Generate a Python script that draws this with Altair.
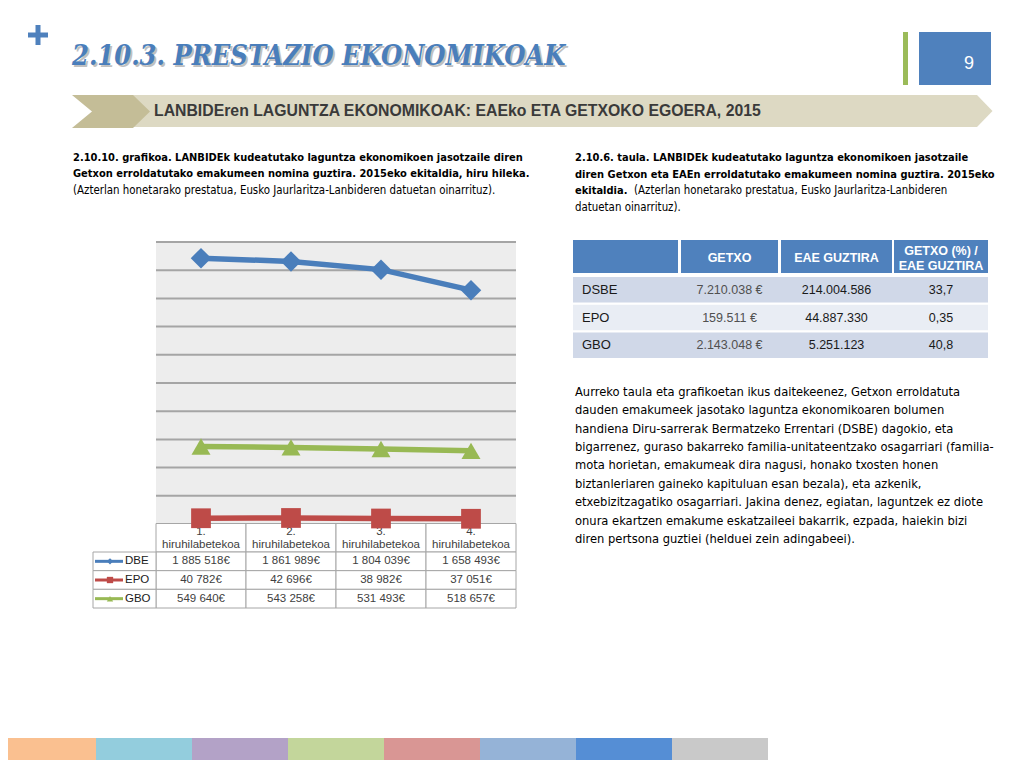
import altair as alt
import pandas as pd

# ---------------- data ----------------
quarters = ["1. hiruhilabetekoa", "2. hiruhilabetekoa", "3. hiruhilabetekoa", "4. hiruhilabetekoa"]
series = ["DBE", "EPO", "GBO"]
dbe_values = [1885518, 1861989, 1804039, 1658493]
epo_values = [40782, 42696, 38982, 37051]
gbo_values = [549640, 543258, 531493, 518657]
series_colors = ["#4A7EBB", "#BE4B48", "#98B954"]
series_shapes = ["diamond", "square", "triangle-up"]
grid_ticks = [200000, 400000, 600000, 800000, 1000000, 1200000, 1400000, 1600000, 1800000, 2000000]

table_rows = ["DSBE", "EPO", "GBO"]
getxo_values = [7210038, 159511, 2143048]
eae_values = [214004586, 44887330, 5251123]
pct_values = [33.7, 0.35, 40.8]
table_headers = ["GETXO", "EAE GUZTIRA", "GETXO (%) /\nEAE GUZTIRA"]
row_fills = ["#D0D8E8", "#E9EDF4", "#D0D8E8"]

strip_colors = ["#FAC090", "#93CDDD", "#B3A2C7", "#C3D69B", "#D99694", "#95B3D7", "#558ED5", "#C9C9C9"]

title_text = "2.10.3. PRESTAZIO EKONOMIKOAK"
page_number = "9"
header_text = "LANBIDEren LAGUNTZA EKONOMIKOAK: EAEko ETA GETXOKO EGOERA, 2015"
left_caption_bold = [
    "2.10.10. grafikoa. LANBIDEk kudeatutako laguntza ekonomikoen jasotzaile diren",
    "Getxon erroldatutako emakumeen nomina guztira. 2015eko ekitaldia, hiru hileka.",
]
left_caption_normal = "(Azterlan honetarako prestatua, Eusko Jaurlaritza-Lanbideren datuetan oinarrituz)."
right_caption_bold = [
    "2.10.6. taula. LANBIDEk kudeatutako laguntza ekonomikoen jasotzaile",
    "diren Getxon eta EAEn erroldatutako emakumeen nomina guztira. 2015eko",
]
right_caption_bold3 = "ekitaldia."
right_caption_rest3 = "(Azterlan honetarako prestatua, Eusko Jaurlaritza-Lanbideren"
right_caption_last = "datuetan oinarrituz)."
paragraph = [
    "Aurreko taula eta grafikoetan ikus daitekeenez, Getxon erroldatuta",
    "dauden emakumeek jasotako laguntza ekonomikoaren bolumen",
    "handiena Diru-sarrerak Bermatzeko Errentari (DSBE) dagokio, eta",
    "bigarrenez, guraso bakarreko familia-unitateentzako osagarriari (familia-",
    "mota horietan, emakumeak dira nagusi, honako txosten honen",
    "biztanleriaren gaineko kapituluan esan bezala), eta azkenik,",
    "etxebizitzagatiko osagarriari. Jakina denez, egiatan, laguntzek ez diote",
    "onura ekartzen emakume eskatzaileei bakarrik, ezpada, haiekin bizi",
    "diren pertsona guztiei (helduei zein adingabeei).",
]

# ---------------- helpers ----------------
SANS = "Liberation Sans, Arial, sans-serif"
NARROW = "Liberation Sans Narrow, Arial Narrow, DejaVu Sans Condensed, Liberation Sans, sans-serif"
one = pd.DataFrame({"k": [0]})


def label(text, x, y, size, color="#000000", weight="normal", style="normal",
          font=SANS, align="left", baseline="alphabetic", **kw):
    return alt.Chart(one).mark_text(
        text=text, align=align, baseline=baseline, fontSize=size, fontWeight=weight,
        fontStyle=style, font=font, color=color, **kw
    ).encode(x=alt.value(x), y=alt.value(y))


def box(x, x2, y, y2, color, **kw):
    return alt.Chart(one).mark_rect(color=color, **kw).encode(
        x=alt.value(x), x2=alt.value(x2), y=alt.value(y), y2=alt.value(y2))


def rule(x, x2, y, y2, color, width):
    return alt.Chart(one).mark_rule(color=color, strokeWidth=width).encode(
        x=alt.value(x), x2=alt.value(x2), y=alt.value(y), y2=alt.value(y2))


def path_shape(path, cx, cy, size, color):
    return alt.Chart(one).mark_point(
        shape=path, size=size, filled=True, color=color, opacity=1, strokeWidth=0
    ).encode(x=alt.value(cx), y=alt.value(cy))


def text_block(lines, x, y0, y1, size, weight="normal", color="#000000", font=NARROW):
    df = pd.DataFrame({"i": list(range(len(lines))), "t": lines})
    n = max(len(lines) - 1, 1)
    return alt.Chart(df).mark_text(
        align="left", baseline="alphabetic", fontSize=size, fontWeight=weight, font=font, color=color
    ).encode(
        x=alt.value(x),
        y=alt.Y("i:Q", scale=alt.Scale(domain=[0, n], range=[y0, y1], zero=False, nice=False), axis=None),
        text="t:N",
    )


layers = []

# ---------------- slide decoration ----------------
layers.append(rule(20, 40, 27, 27, "#4F81BD", 5))
layers.append(rule(30, 30, 17, 37, "#4F81BD", 5))
TITLE_FONT = "DejaVu Serif Condensed, DejaVu Serif, serif"
layers.append(label(title_text, 66, 59, 27, color="#A6A6A6", weight="bold", style="italic",
                    font=TITLE_FONT, opacity=0.7))
layers.append(label(title_text, 64, 57, 27, color="#4A7EBB", weight="bold", style="italic",
                    font=TITLE_FONT))
layers.append(box(895, 900, 24, 77, "#9BBB59"))
layers.append(box(911, 983, 24, 77, "#4F81BD"))
layers.append(label(page_number, 961, 56, 18, color="#FFFFFF", align="center", baseline="middle"))
layers.append(path_shape("M-1,-0.0367L0.9645,-0.0367L1,0L0.9645,0.0367L-1,0.0367Z", 548, 103, 873 ** 2, "#DDD9C3"))
layers.append(path_shape("M-1,-0.423L0.564,-0.423L1,0L0.564,0.423L-1,0.423L-0.487,0Z", 103, 103.5, 78 ** 2, "#C4BD97"))
layers.append(label(header_text, 146, 103, 15.8, color="#3A3A3A", weight="bold", baseline="middle"))

# captions
layers.append(text_block(left_caption_bold, 65, 152.5, 169, 11, weight="bold"))
layers.append(label(left_caption_normal, 65, 185.5, 11.4, font=NARROW))
layers.append(text_block(right_caption_bold, 567, 152.7, 169.5, 11, weight="bold"))
layers.append(label(right_caption_bold3, 567, 186.3, 11, weight="bold", font=NARROW))
layers.append(label(right_caption_rest3, 626, 186.3, 11.4, font=NARROW))
layers.append(label(right_caption_last, 567, 203, 11.4, font=NARROW))

# paragraph
layers.append(text_block(paragraph, 567, 387.7, 535, 12.8))

# bottom colour strip
strip = pd.DataFrame({"i": list(range(len(strip_colors))), "c": strip_colors})
layers.append(
    alt.Chart(strip).mark_rect().encode(
        x=alt.X("i:O", scale=alt.Scale(range=[-8, 760], paddingInner=0, paddingOuter=0), axis=None),
        y=alt.value(730), y2=alt.value(752),
        color=alt.Color("c:N", scale=None),
    )
)

# ---------------- line chart ----------------
long = pd.DataFrame({
    "series": [s for s in series for _ in quarters],
    "quarter": quarters * len(series),
    "value": dbe_values + epo_values + gbo_values,
})

xpoint = alt.Scale(type="point", domain=quarters, range=[148, 508], padding=0.5)
xband = alt.Scale(type="band", domain=quarters, range=[148, 508], paddingInner=0, paddingOuter=0)
yval = alt.Scale(domain=[0, 2000000], range=[516, 234], zero=False, nice=False)
ycol = alt.Scale(domain=series, range=series_colors)

layers.append(box(148, 508, 234, 516, "#EDEDED"))
layers.append(
    alt.Chart(pd.DataFrame({"t": grid_ticks})).mark_rule(color="#A5A5A5", strokeWidth=2).encode(
        x=alt.value(148), x2=alt.value(508),
        y=alt.Y("t:Q", scale=yval, axis=None),
    )
)

# data table under chart
rowband = alt.Scale(type="band", domain=series, range=[544, 600], paddingInner=0, paddingOuter=0)
layers.append(
    alt.Chart(pd.DataFrame({"quarter": quarters})).mark_rect(fill="white", stroke="#A6A6A6", strokeWidth=1).encode(
        x=alt.X("quarter:N", scale=xband, axis=None),
        y=alt.value(515.5), y2=alt.value(544),
    )
)
layers.append(
    alt.Chart(long).mark_rect(fill="white", stroke="#A6A6A6", strokeWidth=1).encode(
        x=alt.X("quarter:N", scale=xband, axis=None),
        y=alt.Y("series:N", scale=rowband, axis=None),
    )
)
layers.append(
    alt.Chart(pd.DataFrame({"quarter": quarters})).mark_text(
        lineBreak=" ", fontSize=11.5, font=SANS, color="#404040", baseline="middle", lineHeight=13
    ).encode(
        x=alt.X("quarter:N", scale=xband, axis=None, bandPosition=0.5),
        y=alt.value(523.5),
        text="quarter:N",
    )
)
layers.append(
    alt.Chart(long).transform_calculate(
        lab="replace(replace(format(datum.value, ','), ',', ' '), ',', ' ') + '€'"
    ).mark_text(fontSize=11.5, font=SANS, color="#404040", baseline="middle").encode(
        x=alt.X("quarter:N", scale=xband, axis=None, bandPosition=0.5),
        y=alt.Y("series:N", scale=rowband, axis=None, bandPosition=0.5),
        text="lab:N",
    )
)
sdf = pd.DataFrame({"series": series})
layers.append(
    alt.Chart(sdf).mark_rect(fill="white", stroke="#A6A6A6", strokeWidth=1).encode(
        x=alt.value(85), x2=alt.value(148),
        y=alt.Y("series:N", scale=rowband, axis=None),
    )
)
layers.append(
    alt.Chart(sdf).mark_rule(strokeWidth=3).encode(
        x=alt.value(87), x2=alt.value(115),
        y=alt.Y("series:N", scale=rowband, axis=None, bandPosition=0.5),
        color=alt.Color("series:N", scale=ycol, legend=None),
    )
)
layers.append(
    alt.Chart(sdf).mark_point(filled=True, opacity=1, size=40).encode(
        x=alt.value(102),
        y=alt.Y("series:N", scale=rowband, axis=None, bandPosition=0.5),
        color=alt.Color("series:N", scale=ycol, legend=None),
        shape=alt.Shape("series:N", scale=alt.Scale(domain=series, range=series_shapes), legend=None),
    )
)
layers.append(
    alt.Chart(sdf).mark_text(align="left", baseline="middle", fontSize=11.5, font=SANS, color="#202020").encode(
        x=alt.value(117),
        y=alt.Y("series:N", scale=rowband, axis=None, bandPosition=0.5),
        text="series:N",
    )
)

# lines and markers
layers.append(
    alt.Chart(long).mark_line(strokeWidth=5.5).encode(
        x=alt.X("quarter:N", scale=xpoint, axis=None),
        y=alt.Y("value:Q", scale=yval, axis=None),
        color=alt.Color("series:N", scale=ycol, legend=None),
        detail="series:N",
    )
)
layers.append(
    alt.Chart(long).mark_point(filled=True, opacity=1).encode(
        x=alt.X("quarter:N", scale=xpoint, axis=None),
        y=alt.Y("value:Q", scale=yval, axis=None),
        color=alt.Color("series:N", scale=ycol, legend=None),
        shape=alt.Shape("series:N", scale=alt.Scale(domain=series, range=series_shapes), legend=None),
        size=alt.Size("series:N", scale=alt.Scale(domain=series, range=[420, 360, 430]), legend=None),
    )
)

# ---------------- right table ----------------
tdf = pd.DataFrame({
    "row": table_rows,
    "getxo": getxo_values,
    "eae": eae_values,
    "pct": pct_values,
    "fill": row_fills,
})
trow = alt.Scale(type="band", domain=table_rows, range=[269, 350], paddingInner=0.08, paddingOuter=0)

col_edges = [(565, 670), (673, 770), (773, 884), (886, 980)]
for (a, b) in col_edges:
    layers.append(box(a, b, 232, 265, "#4F81BD"))
for (a, b), h in zip(col_edges[1:], table_headers):
    n_lines = h.count("\n") + 1
    layers.append(label(h, (a + b) / 2, 250 - 7.5 * (n_lines - 1), 12.5, color="#FFFFFF", weight="bold",
                        align="center", baseline="middle", lineBreak="\n", lineHeight=15))

layers.append(
    alt.Chart(tdf).mark_rect().encode(
        x=alt.value(565), x2=alt.value(980),
        y=alt.Y("row:N", scale=trow, axis=None),
        color=alt.Color("fill:N", scale=None),
    )
)
ytxt = alt.Y("row:N", scale=trow, axis=None, bandPosition=0.5)
layers.append(
    alt.Chart(tdf).mark_text(align="left", baseline="middle", fontSize=13, font=SANS, color="#1A1A1A").encode(
        x=alt.value(574), y=ytxt, text="row:N")
)
layers.append(
    alt.Chart(tdf).transform_calculate(
        lab="replace(replace(format(datum.getxo, ','), ',', '.'), ',', '.') + ' €'"
    ).mark_text(align="center", baseline="middle", fontSize=12.5, font=SANS, color="#505050").encode(
        x=alt.value(721.5), y=ytxt, text="lab:N")
)
layers.append(
    alt.Chart(tdf).transform_calculate(
        lab="replace(replace(format(datum.eae, ','), ',', '.'), ',', '.')"
    ).mark_text(align="center", baseline="middle", fontSize=12.5, font=SANS, color="#1A1A1A").encode(
        x=alt.value(828.5), y=ytxt, text="lab:N")
)
layers.append(
    alt.Chart(tdf).transform_calculate(
        lab="replace(toString(datum.pct), '.', ',')"
    ).mark_text(align="center", baseline="middle", fontSize=12.5, font=SANS, color="#1A1A1A").encode(
        x=alt.value(933), y=ytxt, text="lab:N")
)

chart = alt.layer(*layers).resolve_scale(
    x="independent", y="independent", color="independent", shape="independent", size="independent"
).properties(
    width=1008, height=752, padding=0, autosize=alt.AutoSizeParams(type="none"), background="white"
).configure_view(strokeWidth=0)

chart.save("out.html", embed_options={"renderer": "svg", "actions": False})
